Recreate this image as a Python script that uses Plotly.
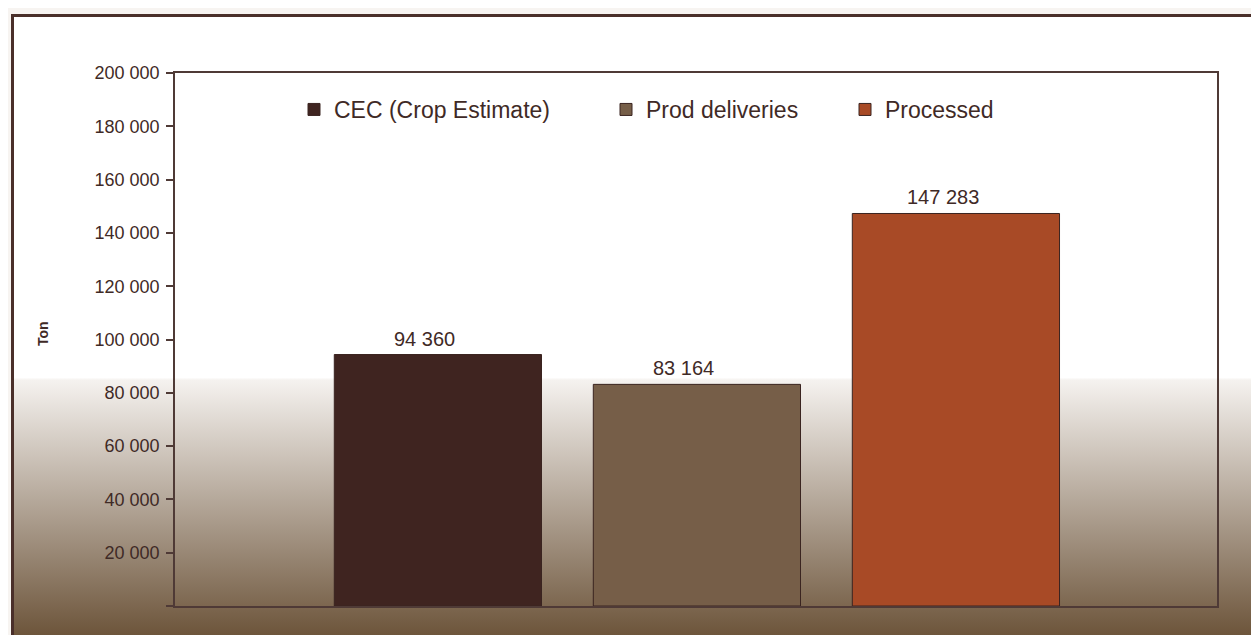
import base64
import plotly.graph_objects as go

# ---- data ----
series_names = ["CEC (Crop Estimate)", "Prod deliveries", "Processed"]
values = [94360, 83164, 147283]
bar_colors = ["#3f2420", "#765e48", "#a84a26"]
y_tick_values = [0, 20000, 40000, 60000, 80000, 100000, 120000, 140000, 160000, 180000, 200000]
y_tick_labels = [""] + [f"{v:,}".replace(",", " ") for v in y_tick_values[1:]]
value_labels = [f"{v:,}".replace(",", " ") for v in values]
y_title = "Ton"

FONT = "Liberation Sans, Arial, sans-serif"
TEXT = "#3f2a26"
AXIS = "#4f3a36"
OFF = 8                      # page body margin
W, H = 1259 - OFF, 635 - OFF  # figure size
L, T = 175 - OFF, 73 - OFF
R, B = 42, 29
PW, PH = W - L - R, H - T - B

def px_x(p):
    """screen pixel x -> paper fraction"""
    return (p - OFF - L) / PW

def px_y(p):
    """screen pixel y -> paper fraction"""
    return 1 - (p - OFF - T) / PH

# background: frame with white->brown vertical gradient
fx0, fy0 = 11, 14
fw, fh = 1259 - fx0, 635 - fy0
grad_start = (380 - fy0) / fh
svg = f"""<svg xmlns='http://www.w3.org/2000/svg' width='{fw}' height='{fh}' viewBox='0 0 {fw} {fh}' preserveAspectRatio='none'>
<defs><linearGradient id='g' x1='0' y1='0' x2='0' y2='1'>
<stop offset='0' stop-color='#ffffff'/>
<stop offset='{grad_start - 0.004:.4f}' stop-color='#ffffff'/>
<stop offset='{grad_start:.4f}' stop-color='#f5f2ef'/>
<stop offset='1' stop-color='#6d553b'/>
</linearGradient></defs>
<rect x='0' y='0' width='{fw}' height='{fh}' fill='url(#g)'/>
<rect x='0' y='0' width='3' height='{fh}' fill='#4a2f2a'/>
<rect x='0' y='0' width='{fw}' height='3' fill='#4a2f2a'/>
</svg>"""
svg_uri = "data:image/svg+xml;base64," + base64.b64encode(svg.encode()).decode()

fig = go.Figure()
legend_ids = ["legend", "legend2", "legend3"]
for name, val, col, lg in zip(series_names, values, bar_colors, legend_ids):
    fig.add_trace(go.Bar(
        x=[name], y=[val], name=name, legend=lg,
        marker=dict(color=col, line=dict(color="#3a2420", width=1)),
        width=0.8, hoverinfo="x+y",
    ))

annotations = [
    dict(x=name, y=val, xref="x", yref="y", text=lab, showarrow=False,
         xanchor="center", yanchor="bottom", xshift=-13, yshift=3,
         font=dict(size=20, color=TEXT, family=FONT))
    for name, val, lab in zip(series_names, values, value_labels)
]
annotations.append(dict(text="<b>" + y_title + "</b>", xref="paper", yref="paper",
                        x=px_x(43), y=px_y(334), xanchor="center", yanchor="middle",
                        textangle=-90, showarrow=False,
                        font=dict(size=14, color=TEXT, family=FONT)))

leg_common = dict(orientation="h", xanchor="left", yanchor="top",
                  bgcolor="rgba(0,0,0,0)",
                  font=dict(size=23, color=TEXT, family=FONT))
legend_left_px = [294, 606, 845]
legend_top_px = 88

fig.update_layout(
    width=W, height=H, autosize=False,
    margin=dict(l=L, r=R, t=T, b=B, pad=0),
    paper_bgcolor="#f7f4f1",
    plot_bgcolor="rgba(0,0,0,0)",
    barmode="overlay",
    showlegend=True,
    font=dict(family=FONT, color=TEXT),
    legend=dict(x=px_x(legend_left_px[0]), y=px_y(legend_top_px), **leg_common),
    legend2=dict(x=px_x(legend_left_px[1]), y=px_y(legend_top_px), **leg_common),
    legend3=dict(x=px_x(legend_left_px[2]), y=px_y(legend_top_px), **leg_common),
    xaxis=dict(type="category", range=[-1.015, 3.008], showticklabels=False,
               ticks="", showline=True, linecolor=AXIS, linewidth=1.5, mirror=True,
               showgrid=False, zeroline=False),
    yaxis=dict(range=[0, 200000], tickvals=y_tick_values, ticktext=y_tick_labels,
               ticks="outside", ticklen=7, tickcolor=AXIS, tickwidth=1.5,
               ticklabelstandoff=3,
               showline=True, linecolor=AXIS, linewidth=1.5, mirror=True,
               showgrid=False, zeroline=False,
               tickfont=dict(size=18, color=TEXT, family=FONT)),
    images=[dict(source=svg_uri, xref="paper", yref="paper",
                 x=px_x(fx0), y=px_y(fy0), sizex=fw / PW, sizey=fh / PH,
                 xanchor="left", yanchor="top", sizing="stretch", layer="below")],
    annotations=annotations,
)

fig.write_html("out.html")
